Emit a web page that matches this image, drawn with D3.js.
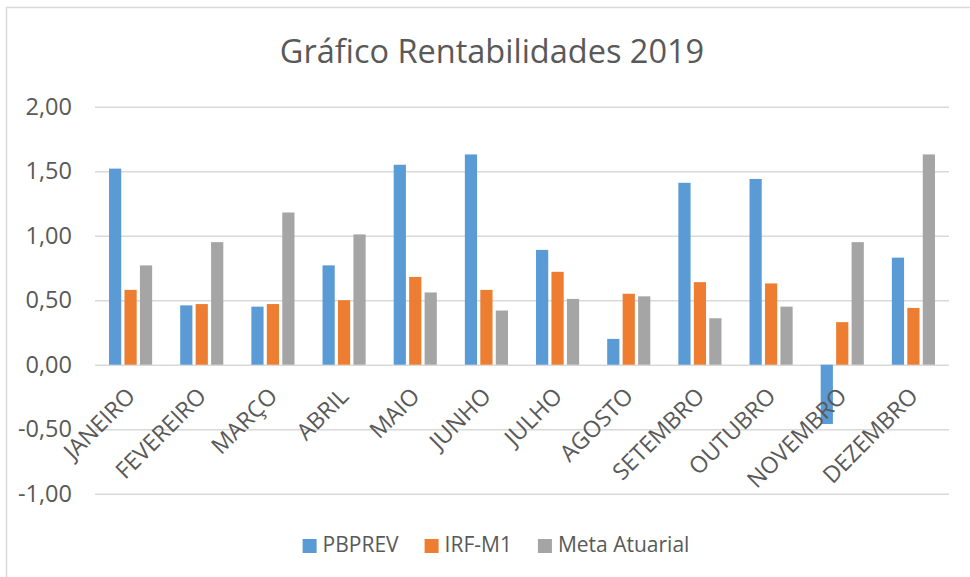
<!DOCTYPE html>
<html>
<head>
<meta charset="utf-8">
<script src="https://cdn.jsdelivr.net/npm/d3@7"></script>
<style>
  html, body { margin: 0; padding: 0; background: #fff; }
  svg { display: block; font-family: "Open Sans", "Noto Sans", sans-serif; }
</style>
</head>
<body>
<svg id="chart" width="970" height="577"></svg>
<script>
const months = ["JANEIRO","FEVEREIRO","MARÇO","ABRIL","MAIO","JUNHO","JULHO","AGOSTO","SETEMBRO","OUTUBRO","NOVEMBRO","DEZEMBRO"];
const seriesNames = ["PBPREV","IRF-M1","Meta Atuarial"];
const pbprev = [1.52, 0.46, 0.45, 0.77, 1.55, 1.63, 0.89, 0.20, 1.41, 1.44, -0.46, 0.83];
const irfm1  = [0.58, 0.47, 0.47, 0.50, 0.68, 0.58, 0.72, 0.55, 0.64, 0.63, 0.33, 0.44];
const meta   = [0.77, 0.95, 1.18, 1.01, 0.56, 0.42, 0.51, 0.53, 0.36, 0.45, 0.95, 1.63];
const yTicks = [-1, -0.5, 0, 0.5, 1, 1.5, 2];
const colors = ["#5B9BD5", "#ED7D31", "#A5A5A5"];
const title = "Gráfico Rentabilidades 2019";

const seriesValues = [pbprev, irfm1, meta];
const svg = d3.select("#chart");
const textColor = "#595959";
const gridColor = "#D9D9D9";

// chart border
svg.append("rect").attr("x", 6.5).attr("y", 7.5).attr("width", 1000).attr("height", 600)
  .attr("fill", "none").attr("stroke", gridColor).attr("stroke-width", 1.5);

const plot = { left: 95, right: 949, top: 106.7, bottom: 493.7 };
const y = d3.scaleLinear().domain([-1, 2]).range([plot.bottom, plot.top]);
const x0 = d3.scaleBand().domain(months).range([plot.left, plot.right]).paddingInner(0).paddingOuter(0);
const bw = x0.bandwidth();
const x1 = d3.scaleBand().domain(seriesNames).range([bw * 0.197, bw * 0.803]).paddingInner(0.21).paddingOuter(0);

const locale = d3.formatLocale({ decimal: ",", thousands: ".", grouping: [3], currency: ["R$", ""], minus: "-" });
const fmt = locale.format(".2f");

// title
svg.append("text").attr("x", 492).attr("y", 63).attr("text-anchor", "middle")
  .attr("font-size", 32.5).attr("fill", textColor).text(title);

// y axis with gridlines
const yAxis = d3.axisLeft(y).tickValues(yTicks).tickFormat(fmt)
  .tickSizeInner(-(plot.right - plot.left)).tickSizeOuter(0).tickPadding(23);
const gy = svg.append("g").attr("transform", `translate(${plot.left},0)`).call(yAxis);
gy.select(".domain").remove();
gy.selectAll(".tick line").attr("stroke", gridColor).attr("stroke-width", 1.4);
gy.selectAll(".tick text").attr("fill", textColor).attr("font-size", 23.5)
  .attr("font-family", "'Open Sans', sans-serif");

// bars
const data = months.map((m, i) => ({ month: m, values: seriesNames.map((s, j) => ({ s, j, v: seriesValues[j][i] })) }));
const groups = svg.append("g").selectAll("g").data(data).join("g")
  .attr("transform", d => `translate(${x0(d.month)},0)`);
groups.selectAll("rect").data(d => d.values).join("rect")
  .attr("x", d => x1(d.s))
  .attr("width", x1.bandwidth())
  .attr("y", d => y(Math.max(0, d.v)))
  .attr("height", d => Math.abs(y(d.v) - y(0)))
  .attr("fill", d => colors[d.j]);

// x axis (category labels)
const xAxis = d3.axisBottom(x0).tickSize(0).tickPadding(0);
const gx = svg.append("g").attr("transform", `translate(0,${y(0)})`).call(xAxis);
gx.select(".domain").remove();
gx.selectAll(".tick text")
  .attr("fill", textColor).attr("font-size", 23)
  .attr("font-family", "'Open Sans', sans-serif")
  .attr("text-anchor", "end")
  .attr("dy", null).attr("y", null)
  .attr("transform", "translate(6,33) rotate(-45)");

// legend
const legend = svg.append("g");
let lx = 0;
const items = [];
seriesNames.forEach((name, i) => {
  const g = legend.append("g");
  g.append("rect").attr("x", 0).attr("y", 539).attr("width", 14).attr("height", 14).attr("fill", colors[i]);
  const t = g.append("text").attr("x", 20).attr("y", 552).attr("font-size", 21).attr("fill", textColor).text(name);
  const w = 20 + t.node().getComputedTextLength();
  items.push({ g, w });
});
const gap = 26;
const total = d3.sum(items, d => d.w) + gap * (items.length - 1);
lx = 496 - total / 2;
items.forEach(it => { it.g.attr("transform", `translate(${lx},0)`); lx += it.w + gap; });
</script>
</body>
</html>
